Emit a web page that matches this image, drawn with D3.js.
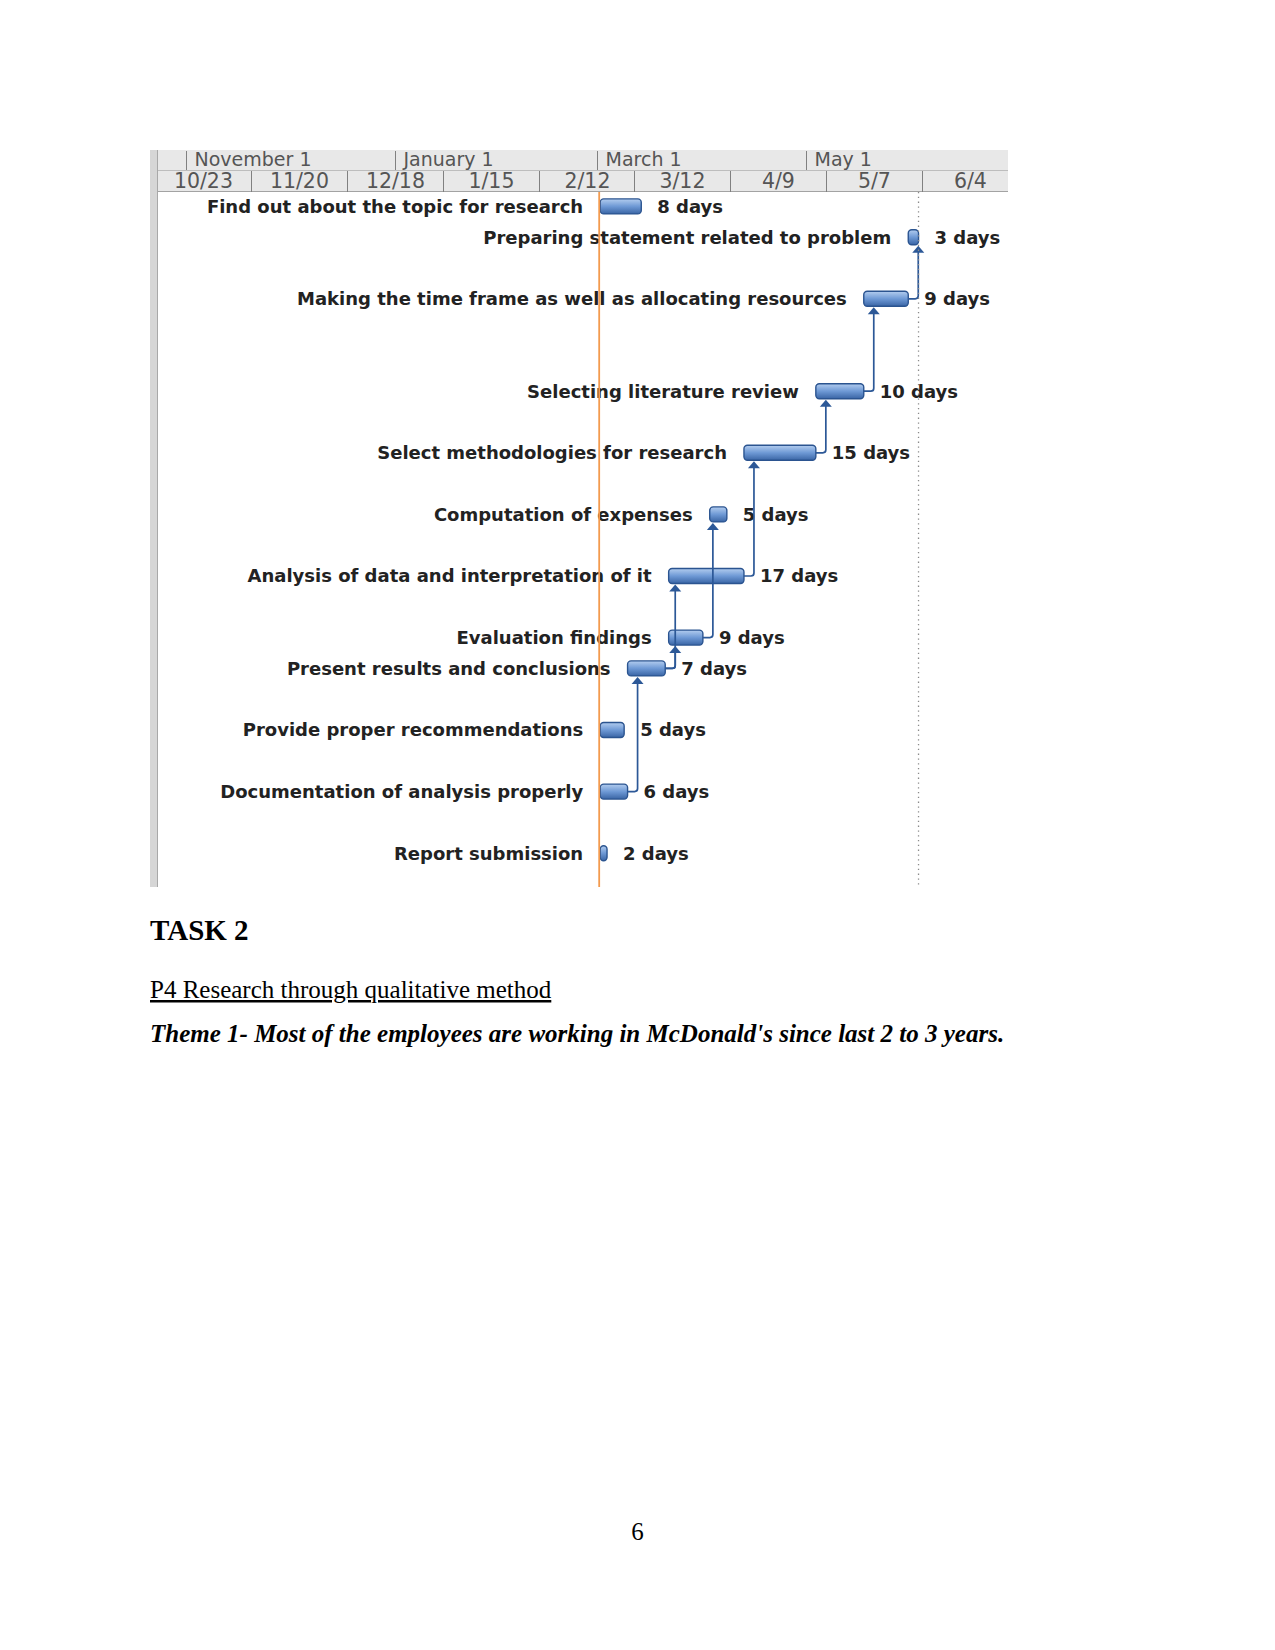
<!DOCTYPE html>
<html>
<head>
<meta charset="utf-8">
<script src="https://cdn.jsdelivr.net/npm/d3@7"></script>
<style>
  body { margin: 0; background: #fff; }
  .task, .dur { font-family: "DejaVu Sans", sans-serif; font-weight: bold; font-size: 18px; fill: #222; }
  .hdr { font-family: "DejaVu Sans", sans-serif; fill: #555; }
  .doc { font-family: "Liberation Serif", "Times New Roman", serif; fill: #000; }
</style>
</head>
<body>
<div id="page"></div>
<script>
// Gantt data
const taskNames = [
  "Find out about the topic for research",
  "Preparing statement related to problem",
  "Making the time frame as well as allocating resources",
  "Selecting literature review",
  "Select methodologies for research",
  "Computation of expenses",
  "Analysis of data and interpretation of it",
  "Evaluation findings",
  "Present results and conclusions",
  "Provide proper recommendations",
  "Documentation of analysis properly",
  "Report submission"
];
const taskStarts = ["2017-03-02","2017-05-31","2017-05-18","2017-05-04","2017-04-13","2017-04-03",
                    "2017-03-22","2017-03-22","2017-03-10","2017-03-02","2017-03-02","2017-03-02"];
const taskFinishes = ["2017-03-14","2017-06-03","2017-05-31","2017-05-18","2017-05-04","2017-04-08",
                      "2017-04-13","2017-04-01","2017-03-21","2017-03-09","2017-03-10","2017-03-04"];
const taskDurations = ["8 days","3 days","9 days","10 days","15 days","5 days",
                       "17 days","9 days","7 days","5 days","6 days","2 days"];
// predecessor -> successor (indexes into taskNames)
const links = [[2,1],[3,2],[4,3],[6,4],[7,5],[8,7],[8,6],[10,8]];
// row heights of the Gantt table, in lines
const rowLines = [1,1,2,3,2,2,2,2,1,2,2,2];

const majorTicks = ["2016-11-01","2017-01-01","2017-03-01","2017-05-01"];
const minorTicks = ["2016-10-23","2016-11-20","2016-12-18","2017-01-15","2017-02-12",
                    "2017-03-12","2017-04-09","2017-05-07","2017-06-04"];
const currentDate = "2017-03-02";
const finishDate = "2017-06-03";

const parse = d3.timeParse("%Y-%m-%d");

const W = 1275, H = 1650;
const chart = {left: 150, right: 1008, top: 150, bottom: 887};
const hdr1 = 20, hdr2 = 22;
const rowsTop = 191;
const lineH = 30.8;
const barH = 15;

const svg = d3.select("#page").append("svg")
  .attr("width", W).attr("height", H);

const defs = svg.append("defs");
const grad = defs.append("linearGradient").attr("id", "barGrad")
  .attr("x1", 0).attr("y1", 0).attr("x2", 0).attr("y2", 1);
grad.append("stop").attr("offset", "0%").attr("stop-color", "#b3cdef");
grad.append("stop").attr("offset", "50%").attr("stop-color", "#6e99d5");
grad.append("stop").attr("offset", "100%").attr("stop-color", "#3a65a5");
defs.append("clipPath").attr("id", "chartClip").append("rect")
  .attr("x", chart.left).attr("y", chart.top)
  .attr("width", chart.right - chart.left).attr("height", chart.bottom - chart.top);

const x = d3.scaleTime()
  .domain([parse("2016-10-23"), parse("2017-06-04")])
  .range([155.2, 155.2 + 224 * 3.423]);

// row center positions from cumulative row heights
const rowEnds = d3.cumsum(rowLines);
const yRow = d3.scaleLinear().domain([0, 1]).range([rowsTop, rowsTop + lineH]);
const yc = i => yRow(rowEnds[i] - 0.5);

const g = svg.append("g").attr("clip-path", "url(#chartClip)");

// header
g.append("rect").attr("x", chart.left).attr("y", chart.top)
  .attr("width", chart.right - chart.left).attr("height", hdr1 + hdr2)
  .attr("fill", "#e8e8e8");
g.append("line").attr("x1", chart.left).attr("x2", chart.right)
  .attr("y1", chart.top + hdr1 + 0.5).attr("y2", chart.top + hdr1 + 0.5)
  .attr("stroke", "#bdbdbd");
g.append("line").attr("x1", chart.left).attr("x2", chart.right)
  .attr("y1", chart.top + hdr1 + hdr2 - 0.5).attr("y2", chart.top + hdr1 + hdr2 - 0.5)
  .attr("stroke", "#a3a3a3");

const fmtMajor = d3.timeFormat("%B %-d");
const fmtMinor = d3.timeFormat("%-m/%-d");

const major = g.selectAll(".major").data(majorTicks.map(parse)).join("g")
  .attr("class", "major")
  .attr("transform", d => `translate(${Math.round(x(d)) + 0.5},${chart.top})`);
major.append("line").attr("y1", 1).attr("y2", hdr1).attr("stroke", "#808080");
major.append("text").attr("class", "hdr").attr("x", 8).attr("y", hdr1 - 4)
  .attr("font-size", 19).text(fmtMajor);

const minorDates = minorTicks.map(parse);
const cellW = x(minorDates[1]) - x(minorDates[0]);
const minor = g.selectAll(".minor").data(minorDates).join("g")
  .attr("class", "minor")
  .attr("transform", d => `translate(${Math.round(x(d)) + 0.5},${chart.top + hdr1})`);
minor.filter((d, i) => i > 0).append("line")
  .attr("y1", 1).attr("y2", hdr2).attr("stroke", "#808080");
minor.append("text").attr("class", "hdr").attr("x", cellW / 2).attr("y", hdr2 - 4)
  .attr("font-size", 20.5).attr("text-anchor", "middle").text(fmtMinor);

// left strip
g.append("rect").attr("x", chart.left).attr("y", chart.top)
  .attr("width", 7).attr("height", chart.bottom - chart.top).attr("fill", "#d6d6d6");
g.append("line").attr("x1", chart.left + 7.5).attr("x2", chart.left + 7.5)
  .attr("y1", chart.top).attr("y2", chart.bottom).attr("stroke", "#a8a8a8");

// bars
const tasks = taskNames.map((name, i) => ({
  name, i,
  start: parse(taskStarts[i]),
  finish: parse(taskFinishes[i]),
  dur: taskDurations[i]
}));

const rows = g.selectAll(".row").data(tasks).join("g").attr("class", "row");
rows.append("rect")
  .attr("x", d => x(d.start))
  .attr("y", d => yc(d.i) - barH / 2)
  .attr("width", d => Math.max(5, x(d.finish) - x(d.start)))
  .attr("height", barH)
  .attr("rx", 3.5)
  .attr("fill", "url(#barGrad)")
  .attr("stroke", "#2b5490").attr("stroke-width", 1.4);
rows.append("text").attr("class", "task")
  .attr("x", d => x(d.start) - 17)
  .attr("y", d => yc(d.i)).attr("dy", "0.36em")
  .attr("text-anchor", "end").text(d => d.name);
rows.append("text").attr("class", "dur")
  .attr("x", d => Math.max(x(d.start) + 5, x(d.finish)) + 16)
  .attr("y", d => yc(d.i)).attr("dy", "0.36em")
  .text(d => d.dur);

// dependency links
const linkColor = "#2c5897";
links.forEach(([p, s]) => {
  const x0 = x(tasks[p].finish), y0 = yc(p);
  const x1 = x0 + 10;
  const yTip = yc(s) + barH / 2 + 1;
  g.append("path")
    .attr("d", `M${x0},${y0}H${x1 - 3}Q${x1},${y0} ${x1},${y0 - 3}V${yTip + 5}`)
    .attr("fill", "none").attr("stroke", linkColor).attr("stroke-width", 1.7);
  g.append("path")
    .attr("d", `M${x1},${yTip}L${x1 - 6},${yTip + 7}L${x1 + 6},${yTip + 7}Z`)
    .attr("fill", linkColor);
});

// current date and project finish lines
g.append("line")
  .attr("x1", x(parse(currentDate)) - 1).attr("x2", x(parse(currentDate)) - 1)
  .attr("y1", chart.top + hdr1 + hdr2).attr("y2", chart.bottom)
  .attr("stroke", "#f39a4e").attr("stroke-width", 1.8);
g.append("line")
  .attr("x1", x(parse(finishDate))).attr("x2", x(parse(finishDate)))
  .attr("y1", chart.top + hdr1 + hdr2).attr("y2", chart.bottom)
  .attr("stroke", "#8a8a8a").attr("stroke-width", 1.3)
  .attr("stroke-dasharray", "1.3,3.5");

// document text below the chart
svg.append("text").attr("class", "doc").attr("x", 150).attr("y", 940)
  .attr("font-size", 29).attr("font-weight", "bold").text("TASK 2");
svg.append("text").attr("class", "doc").attr("x", 150).attr("y", 998)
  .attr("font-size", 25).attr("text-decoration", "underline")
  .text("P4 Research through qualitative method");
svg.append("text").attr("class", "doc").attr("x", 150).attr("y", 1042)
  .attr("font-size", 25).attr("font-weight", "bold").attr("font-style", "italic")
  .text("Theme 1- Most of the employees are working in McDonald's since last 2 to 3 years.");
svg.append("text").attr("class", "doc").attr("x", 637.5).attr("y", 1540)
  .attr("font-size", 25).attr("text-anchor", "middle").text("6");
</script>
</body>
</html>
